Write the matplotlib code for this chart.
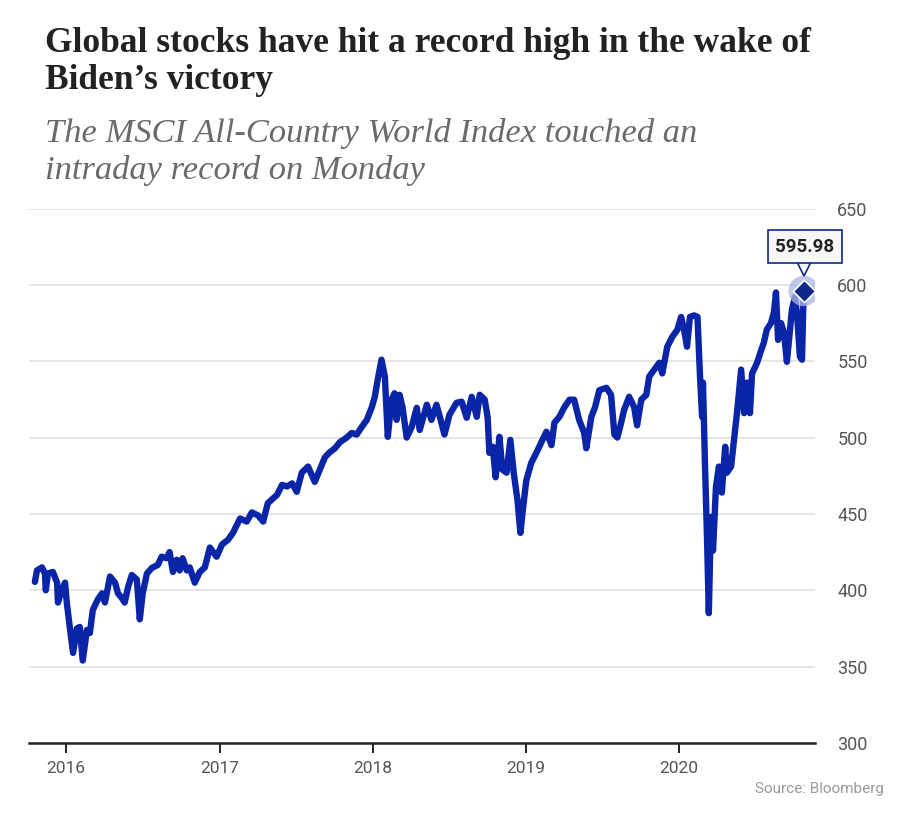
import pandas as pd
import numpy as np
import matplotlib.pyplot as plt
import matplotlib.dates as mdates
from matplotlib.transforms import offset_copy

# -----------------------------
# Data
# -----------------------------
dates = [
    "2015-10-19", "2015-10-24", "2015-11-05", "2015-11-12", "2015-11-14", "2015-11-19",
    "2015-12-01", "2015-12-11", "2015-12-13", "2015-12-22", "2015-12-30",
    "2016-01-03", "2016-01-11", "2016-01-18", "2016-01-27", "2016-02-03", "2016-02-10",
    "2016-02-20", "2016-02-27", "2016-03-05", "2016-03-17", "2016-03-27", "2016-04-03",
    "2016-04-15", "2016-04-27", "2016-05-04", "2016-05-13", "2016-05-20", "2016-05-28",
    "2016-06-06", "2016-06-18", "2016-06-25", "2016-07-02", "2016-07-12", "2016-07-24",
    "2016-08-07", "2016-08-16", "2016-08-28", "2016-09-04", "2016-09-12", "2016-09-21",
    "2016-09-28", "2016-10-05", "2016-10-15", "2016-10-22", "2016-11-03", "2016-11-15",
    "2016-11-27", "2016-12-09", "2016-12-25",
    "2017-01-07", "2017-01-21", "2017-02-02", "2017-02-19", "2017-03-07", "2017-03-19",
    "2017-04-03", "2017-04-15", "2017-04-26", "2017-05-18", "2017-05-30", "2017-06-11",
    "2017-06-23", "2017-07-04", "2017-07-16", "2017-07-31", "2017-08-16", "2017-08-28",
    "2017-09-09", "2017-09-19", "2017-10-03", "2017-10-15", "2017-10-31", "2017-11-12",
    "2017-11-24", "2017-12-06", "2017-12-18", "2017-12-30",
    "2018-01-06", "2018-01-13", "2018-01-22", "2018-01-30", "2018-02-06", "2018-02-15",
    "2018-02-22", "2018-02-27", "2018-03-06", "2018-03-13", "2018-03-23", "2018-04-04",
    "2018-04-16", "2018-04-23", "2018-05-10", "2018-05-21", "2018-06-02", "2018-06-10",
    "2018-06-21", "2018-07-03", "2018-07-20", "2018-08-01", "2018-08-13", "2018-08-25",
    "2018-09-06", "2018-09-13", "2018-09-25", "2018-10-02", "2018-10-06", "2018-10-14",
    "2018-10-21", "2018-10-30", "2018-11-06", "2018-11-16", "2018-11-25", "2018-12-03",
    "2018-12-12", "2018-12-19", "2018-12-24",
    "2019-01-02", "2019-01-14", "2019-01-26", "2019-02-07", "2019-02-19", "2019-03-03",
    "2019-03-10", "2019-03-22", "2019-04-03", "2019-04-15", "2019-04-26", "2019-05-08",
    "2019-05-20", "2019-05-25", "2019-06-06", "2019-06-15", "2019-06-25", "2019-07-12",
    "2019-07-23", "2019-07-31", "2019-08-07", "2019-08-16", "2019-08-23", "2019-09-04",
    "2019-09-16", "2019-09-23", "2019-10-03", "2019-10-15", "2019-10-22", "2019-11-03",
    "2019-11-15", "2019-11-22", "2019-12-04", "2019-12-16", "2019-12-28",
    "2020-01-06", "2020-01-13", "2020-01-20", "2020-01-27", "2020-02-06", "2020-02-14",
    "2020-02-20", "2020-02-25", "2020-02-27", "2020-03-03", "2020-03-08", "2020-03-12",
    "2020-03-17", "2020-03-22", "2020-03-29", "2020-04-05", "2020-04-12", "2020-04-20",
    "2020-04-24", "2020-05-04", "2020-05-11", "2020-05-18", "2020-05-28", "2020-06-04",
    "2020-06-11", "2020-06-18", "2020-06-23", "2020-07-05", "2020-07-15", "2020-07-21",
    "2020-07-28", "2020-08-07", "2020-08-14", "2020-08-19", "2020-08-24", "2020-08-31",
    "2020-09-07", "2020-09-14", "2020-09-19", "2020-09-26", "2020-10-03", "2020-10-08",
    "2020-10-15", "2020-10-20", "2020-10-24",
]
values = [
    405.5, 413, 415, 411, 400, 411,
    412, 405, 392, 400, 405,
    392, 374, 359, 375, 376, 354,
    374, 372, 387, 394, 398, 392,
    409, 405, 398, 395, 392, 402,
    410, 407, 381, 398, 411, 414.7,
    416.6, 422, 421, 425, 412, 420,
    413, 421, 413, 415, 405, 412,
    415, 428, 422,
    430, 433, 437.6, 447, 445, 451,
    449, 445, 457, 462.5, 469, 468,
    470, 464.5, 477, 481, 471, 479,
    487, 490, 493, 497, 500, 503,
    502, 507, 511.6, 520,
    526.7, 538, 551, 540, 500.5, 524.8,
    529, 511.6, 528, 520, 500, 507,
    519.5, 505, 521.5, 511.6, 521.5, 513.6,
    502, 515, 522.8, 523.5, 513, 526.7,
    513.6, 528, 524.8, 513, 490, 494,
    474, 500.5, 479, 477, 498.5, 477,
    459, 437.6, 450.7,
    472, 483.5, 490, 497, 503.8, 495,
    509.7, 513.6, 520, 524.8, 524.8, 511.6,
    503, 493, 513.6, 520, 531, 532.6,
    528, 502, 500, 509.7, 518, 526.7,
    520, 508, 524.8, 528, 540, 544.5,
    549, 542, 559.5, 566, 570.6,
    579, 570.6, 559.5, 579, 580, 579,
    540, 513.6, 536, 481, 431, 385,
    448, 426, 467.7, 481, 464, 494,
    477, 481, 498.5, 516, 544.5, 516,
    536, 516, 542, 549, 557.5, 562,
    570.6, 575, 581.8, 595, 564, 575,
    568.7, 549.6, 564, 583.7, 592, 581.8,
    553, 551, 595.98,
]
year_ticks = ["2016", "2017", "2018", "2019", "2020"]
y_ticks = [300, 350, 400, 450, 500, 550, 600, 650]
record_label = "595.98"

df = pd.DataFrame({"Date": pd.to_datetime(dates), "Index": values})

# -----------------------------
# Figure
# -----------------------------
line_blue = "#0b25a8"
navy = "#10288c"
sans = ["Roboto", "Noto Sans", "DejaVu Sans"]

fig = plt.figure(figsize=(9.1, 8.32), dpi=100)
ax = fig.add_axes([29 / 910, 89 / 832, 786 / 910, 534.5 / 832])

ax.plot(df["Date"], df["Index"], color=line_blue, lw=4.6,
        solid_joinstyle="round", solid_capstyle="round", zorder=3)

ax.set_ylim(300, 650)
ax.set_xlim(pd.Timestamp("2015-10-05"), pd.Timestamp("2020-11-20"))

ax.set_yticks(y_ticks)
ax.yaxis.tick_right()
ax.tick_params(axis="y", length=0, pad=16, labelsize=13, labelcolor="#555555")
ax.grid(axis="y", color="#e3e3e3", lw=1.3, zorder=0)

ax.set_xticks(pd.to_datetime([y + "-01-01" for y in year_ticks]))
ax.xaxis.set_major_formatter(mdates.DateFormatter("%Y"))
ax.tick_params(axis="x", length=7, width=1.4, color="#222222", pad=6,
               labelsize=12.5, labelcolor="#555555")

for s in ["top", "left", "right"]:
    ax.spines[s].set_visible(False)
ax.spines["bottom"].set_color("#222222")
ax.spines["bottom"].set_linewidth(1.8)
ax.spines["bottom"].set_zorder(2)

for lab in ax.get_xticklabels() + ax.get_yticklabels():
    lab.set_family(sans)

# record marker + callout
last_d = df["Date"].iloc[-1]
last_v = df["Index"].iloc[-1]
ax.scatter([last_d], [last_v], s=480, color="#aab6e2", alpha=0.75, zorder=4,
           edgecolors="none")
ax.scatter([last_d], [last_v], s=130, marker="D", color=navy, zorder=5,
           edgecolors="white", linewidths=1.2)

tri = offset_copy(ax.transData, fig=fig, x=0, y=22, units="dots")
ax.plot([last_d], [last_v], marker="v", ms=10, color="#f7f7f7",
        mec=navy, mew=1.2, transform=tri, zorder=6, clip_on=False)
ax.annotate(record_label, xy=(last_d, last_v), xytext=(1, 32),
            textcoords="offset points", ha="center", va="center",
            fontsize=13.5, fontweight="bold", color="#222222",
            family=sans, zorder=7, annotation_clip=False,
            bbox=dict(boxstyle="square,pad=0.42", fc="#f7f7f7", ec=navy, lw=1.2))

# -----------------------------
# Titles and source
# -----------------------------
fig.text(45 / 910, 1 - 27 / 832,
         "Global stocks have hit a record high in the wake of\nBiden\u2019s victory",
         ha="left", va="top", fontsize=25.5, fontweight="bold", color="#222222",
         family=["Liberation Serif", "DejaVu Serif"], linespacing=1.15)
fig.text(45 / 910, 1 - 118 / 832,
         "The MSCI All-Country World Index touched an\nintraday record on Monday",
         ha="left", va="top", fontsize=24.8, style="italic", color="#6a6a6a",
         family=["Liberation Serif", "DejaVu Serif"], linespacing=1.25)
fig.text(884 / 910, 1 - 789 / 832, "Source: Bloomberg", ha="right", va="center",
         fontsize=11, color="#9a9a9a", family=sans)

plt.savefig("out.png", dpi=100)
